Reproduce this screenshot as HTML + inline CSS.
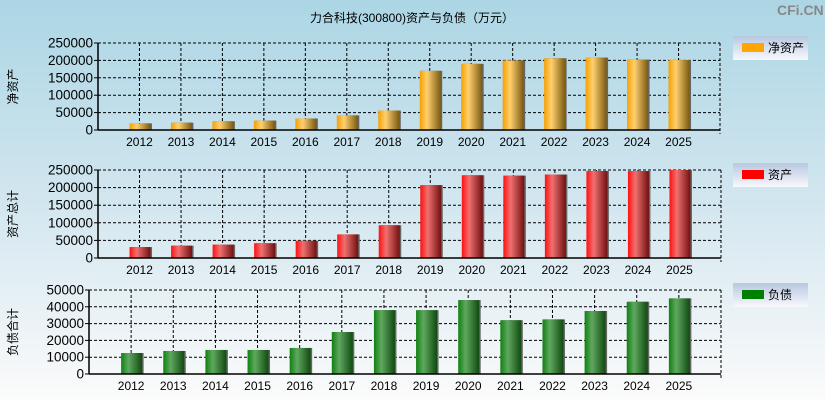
<!DOCTYPE html>
<html><head><meta charset="utf-8"><style>
html,body{margin:0;padding:0}
body{width:825px;height:400px;overflow:hidden;background:linear-gradient(#acd6e5,#d2e6ef 50%,#fbfbfb);font-family:"Liberation Sans","Noto Sans CJK SC",sans-serif}
svg{position:absolute;left:0;top:0}
</style></head><body>
<svg id="c" width="825" height="400">
<defs>
<linearGradient id="gO" x1="0" x2="1"><stop offset="0" stop-color="#f5a000"/><stop offset="0.35" stop-color="#ffd070"/><stop offset="1" stop-color="#7a5a10"/></linearGradient>
<linearGradient id="gR" x1="0" x2="1"><stop offset="0" stop-color="#ff1010"/><stop offset="0.35" stop-color="#f07070"/><stop offset="1" stop-color="#701010"/></linearGradient>
<linearGradient id="gG" x1="0" x2="1"><stop offset="0" stop-color="#108010"/><stop offset="0.35" stop-color="#60a860"/><stop offset="1" stop-color="#104a10"/></linearGradient>
<linearGradient id="gL" x1="0" x2="0" y1="0" y2="1"><stop offset="0" stop-color="#b8c8e0"/><stop offset="1" stop-color="#f8f8fc"/></linearGradient>
</defs>
<text x="412" y="22" text-anchor="middle" font-size="12">力合科技(300800)资产与负债（万元）</text>
<text x="777" y="15" font-size="14" font-weight="bold" fill="#888">CFi.CN</text>
</svg>
<script>
const years=["2012","2013","2014","2015","2016","2017","2018","2019","2020","2021","2022","2023","2024","2025"];
const netAssets=[19000,21000,25000,27000,33000,42000,56000,170000,190000,200000,206000,208000,202000,201000];
const totalAssets=[31000,35000,38000,42000,49000,67000,93000,207000,235000,234000,237000,247000,247000,250000];
const liabilities=[12500,13700,14300,14300,15500,25000,38000,38000,44000,32000,32500,37500,43000,45000];
const ticks1=[0,50000,100000,150000,200000,250000];
const ticks3=[0,10000,20000,30000,40000,50000];
const svg=document.getElementById('c');
const NS='http://www.w3.org/2000/svg';
function mk(tag,at,parent){const e=document.createElementNS(NS,tag);for(const k in at)e.setAttribute(k,at[k]);(parent||svg).appendChild(e);return e;}
function panel(o){
  const g=mk('g',{});
  
  
  const n=15,slot=(o.r-o.l)/n;
  const xs=i=>o.l+slot*(i+1);
  const ys=v=>o.b-(v/o.max)*(o.b-o.t);
  o.ticks.forEach(t=>{
    const y=ys(t);
    if(t>0){const ln=mk('line',{x1:o.l,x2:o.r,y1:y,y2:y,stroke:'#000','stroke-dasharray':'3,2'},g);}
    mk('line',{x1:o.l-4,x2:o.l,y1:y,y2:y,stroke:'#000'},g);
    const tx=mk('text',{x:o.l-5,y:y+4.5,'text-anchor':'end','font-size':'13.5'},g);tx.textContent=t;
    
  });
  years.forEach((yr,i)=>{
    const x=xs(i);
    mk('line',{x1:x,x2:x,y1:o.t,y2:o.b,stroke:'#000','stroke-dasharray':'3,2'},g);
    const tx=mk('text',{x:x,y:o.b+16,'text-anchor':'middle','font-size':'12'},g);tx.textContent=yr;
    
  });
  mk('line',{x1:o.r,x2:o.r,y1:o.t,y2:o.b+4,stroke:'#000','stroke-dasharray':'3,2'},g);
  mk('line',{x1:o.l,x2:o.r,y1:o.t,y2:o.t,stroke:'#000','stroke-dasharray':'3,2'},g);
  o.data.forEach((v,i)=>{
    const x=xs(i),y=ys(v);
    mk('rect',{x:x-10+1.5,y:y,width:21,height:o.b-y,fill:'#666'},g);
    const r=mk('rect',{x:x-10,y:y,width:21,height:o.b-y,fill:o.grad},g);
    
    
  });
  mk('line',{x1:o.l,x2:o.r,y1:o.b,y2:o.b,stroke:'#000','stroke-width':1.5},g);
  mk('line',{x1:o.l,x2:o.l,y1:o.t,y2:o.b,stroke:'#000','stroke-width':1.5},g);
  const yt=mk('text',{x:0,y:0,'font-size':'12',transform:`translate(17,${(o.t+o.b)/2}) rotate(-90)`,'text-anchor':'middle'},g);
  yt.textContent=o.ytitle;
  const lg=mk('g',{},g);
  mk('rect',{x:733,y:o.lt,width:75,height:24,fill:'url(#gL)'},lg);
  mk('rect',{x:742,y:o.lt+7,width:22,height:9,fill:o.color},lg);
  const lt=mk('text',{x:768,y:o.lt+16,'font-size':'12'},lg);lt.textContent=o.label;
}
panel({name:'net-assets',l:98,r:720,t:43,b:130,max:250000,ticks:ticks1,data:netAssets,grad:'url(#gO)',ytitle:'净资产',color:'#ffa500',label:'净资产',lt:36});
panel({name:'total-assets',l:98,r:721,t:170,b:258,max:250000,ticks:ticks1,data:totalAssets,grad:'url(#gR)',ytitle:'资产总计',color:'#ff0000',label:'资产',lt:163});
panel({name:'liabilities',l:89,r:721,t:290,b:374,max:50000,ticks:ticks3,data:liabilities,grad:'url(#gG)',ytitle:'负债合计',color:'#008000',label:'负债',lt:283});
</script>
</body></html>
